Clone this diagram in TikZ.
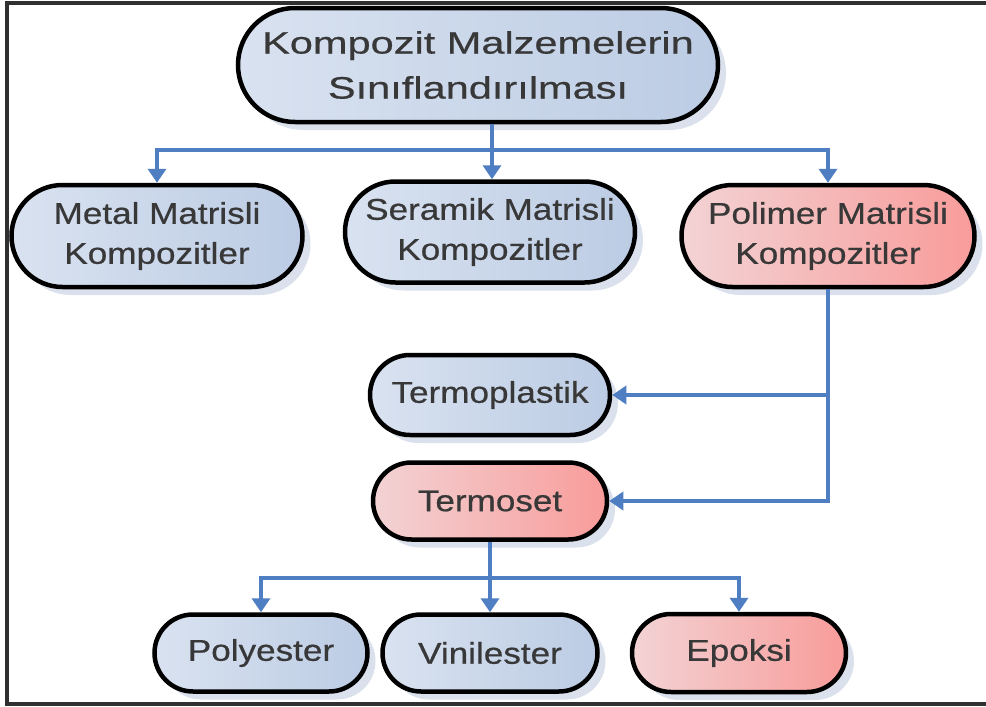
\documentclass[tikz,border=0pt]{standalone}
\usepackage{fontspec}
\setmainfont{Liberation Sans}
\newfontfamily\nfont[FakeStretch=1.17,FakeBold=0.6]{Liberation Sans}
\newfontfamily\tfont[FakeStretch=1.34,FakeBold=0.6]{Liberation Sans}
\usetikzlibrary{arrows.meta,shadows,shapes.misc}
\definecolor{linkc}{HTML}{4F7EC2}
\definecolor{textc}{HTML}{383838}
\definecolor{blueL}{HTML}{D9E2F0}
\definecolor{blueR}{HTML}{BCCCE4}
\definecolor{redL}{HTML}{F3D3D5}
\definecolor{redR}{HTML}{F89C9A}
\definecolor{shadowc}{HTML}{C2CEE0}
\definecolor{framec}{HTML}{303030}
\begin{document}
\begin{tikzpicture}[x=1pt,y=-1pt,
  box/.style={rounded rectangle, draw=black, line width=4.5pt, align=center, text=textc, inner sep=0pt,
    font=\nfont\fontsize{30}{40}\selectfont,
    drop shadow={shadow xshift=8pt, shadow yshift=-8pt, fill=shadowc, opacity=0.6}},
  bluebox/.style={box, left color=blueL, right color=blueR},
  redbox/.style={box, left color=redL, right color=redR},
  conn/.style={draw=linkc, line width=3.5pt, -{Triangle[width=18pt,length=14pt]}},
  link/.style={draw=linkc, line width=3.5pt},
  frame/.style={draw=framec, line width=3.5pt}]
\useasboundingbox (0,0) rectangle (986,707);
\fill[white] (0,0) rectangle (986,707);
\draw[frame] (990,3) -- (7,3) -- (7,704) -- (990,704);

% nodes
\node[bluebox, minimum width=480pt, minimum height=114pt,
      font=\tfont\fontsize{31}{45}\selectfont] (top) at (478,65)
      {Kompozit Malzemelerin\\Sınıflandırılması};
\node[bluebox, minimum width=291pt, minimum height=102pt] (metal) at (157,236)
      {Metal Matrisli\\Kompozitler};
\node[bluebox, minimum width=290pt, minimum height=101pt] (seramik) at (490,232)
      {Seramik Matrisli\\Kompozitler};
\node[redbox, minimum width=293pt, minimum height=102pt] (polimer) at (828,236)
      {Polimer Matrisli\\Kompozitler};
\node[bluebox, minimum width=240pt, minimum height=80pt] (termoplastik) at (490,395)
      {Termoplastik};
\node[redbox, minimum width=234pt, minimum height=77pt] (termoset) at (490,501)
      {Termoset};
\node[bluebox, minimum width=213pt, minimum height=77pt] (polyester) at (261,653)
      {Polyester};
\node[bluebox, minimum width=215pt, minimum height=77pt] (vinilester) at (490,653)
      {Vinilester};
\node[redbox, minimum width=214pt, minimum height=78pt] (epoksi) at (739,653)
      {Epoksi};

% connectors
\coordinate (j1) at (492,150);
\coordinate (j2) at (490,578);
\draw[link] (top.south -| j1) -- (j1);
\draw[conn] (j1) -| (metal.north);
\draw[conn] (j1) -- (seramik.north -| j1);
\draw[conn] (j1) -| (polimer.north);
\draw[conn] (polimer.south) |- (termoplastik.east);
\draw[conn] (polimer.south) |- (termoset.east);
\draw[link] (termoset.south) -- (j2);
\draw[conn] (j2) -| (polyester.north);
\draw[conn] (j2) -- (vinilester.north);
\draw[conn] (j2) -| (epoksi.north);
\end{tikzpicture}
\end{document}
